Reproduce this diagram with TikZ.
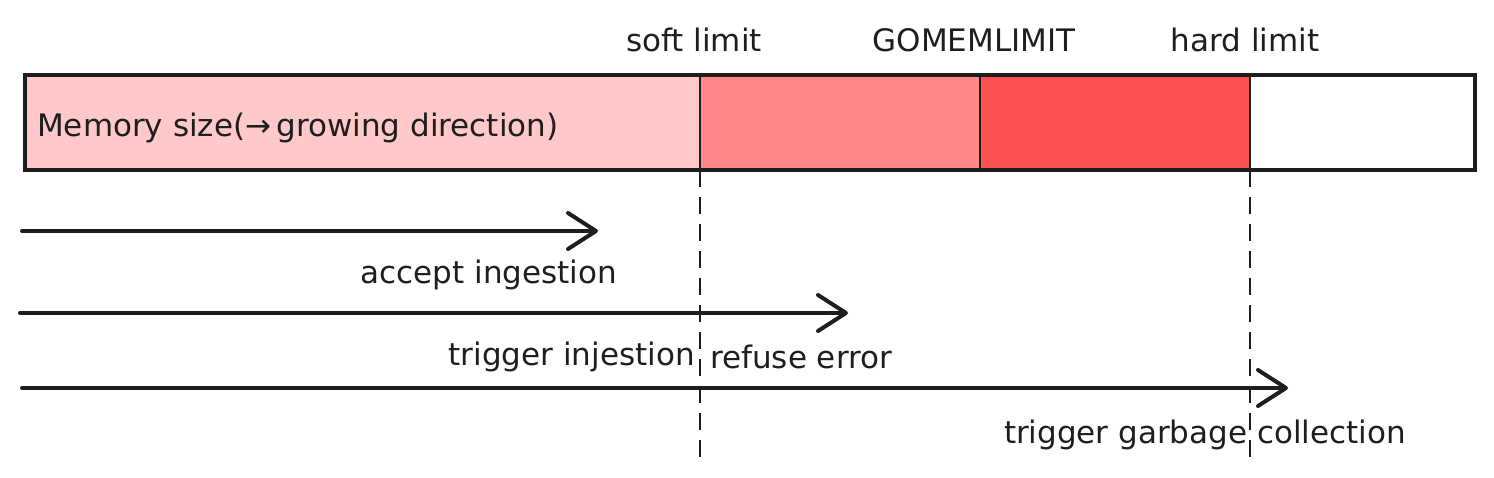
\documentclass[tikz,border=0pt]{standalone}
\usepackage{fontspec}
\setmainfont{DejaVu Sans}
\usepackage{xcolor}
\usepackage{tikz}
\usetikzlibrary{arrows.meta, positioning}
\definecolor{ink}{HTML}{1E1E1E}
\definecolor{softred}{HTML}{FFC9C9}
\definecolor{midred}{HTML}{FF8787}
\definecolor{hotred}{HTML}{FA5252}
\tikzset{
  band/.style={draw=ink, line width=2.5pt, anchor=north west, minimum height=95pt, inner sep=0pt, outer sep=0pt},
  flowline/.style={draw=ink, line width=4pt, line cap=round, -{Straight Barb[length=28pt, width=36pt, line cap=round, line join=round]}},
  limitline/.style={draw=ink, line width=1.8pt, dash pattern=on 17pt off 10pt},
  lbl/.style={text=ink, font=\fontsize{31}{36}\selectfont, inner sep=0pt},
}

\begin{document}
\begin{tikzpicture}[x=1pt, y=-1pt]
				% Bands, limits and flows:
				\useasboundingbox (0, 0) rectangle (1494, 478);
				\node[band, fill=softred, minimum width=675pt](B1) at (25, 75){};
				\node[band, fill=midred, minimum width=280pt](B2) at (700, 75){};
				\node[band, fill=hotred, minimum width=270pt](B3) at (980, 75){};
				\node[band, fill=white, minimum width=225pt](B4) at (1250, 75){};
				\draw[ink, line width=4pt] (B1.north west) rectangle (B4.south east);
				\node[lbl, anchor=west](M1) at ([xshift=12pt, yshift=-5pt]B1.west){Memory size(→\,growing direction)};
				\node[lbl](T1) at (694, 40){soft limit};
				\node[lbl](T2) at (974, 40){GOMEMLIMIT};
				\node[lbl](T3) at (1245, 40){hard limit};
				\coordinate (D1) at (700, 462);
				\coordinate (D2) at (1250, 462);
				\draw[limitline] (B2.south west) -- (D1);
				\draw[limitline] (B4.south west) -- (D2);
				\coordinate (A1) at (22, 231);
				\coordinate (E1) at (598, 231);
				\coordinate (A2) at (20, 313);
				\coordinate (E2) at (848, 313);
				\coordinate (A3) at (22, 388);
				\coordinate (E3) at (1288, 388);
				\draw[flowline] (A1) -- (E1);
				\draw[flowline] (A2) -- (E2);
				\draw[flowline] (A3) -- (E3);
				\node[lbl](L1) at (489, 275){accept ingestion};
				\node[lbl, anchor=east](L2) at (695, 357){trigger injestion};
				\node[lbl, anchor=west](L3) at (710, 357){refuse error};
				\node[lbl](L4) at (1205, 435){trigger garbage collection};
			\end{tikzpicture}
\end{document}
